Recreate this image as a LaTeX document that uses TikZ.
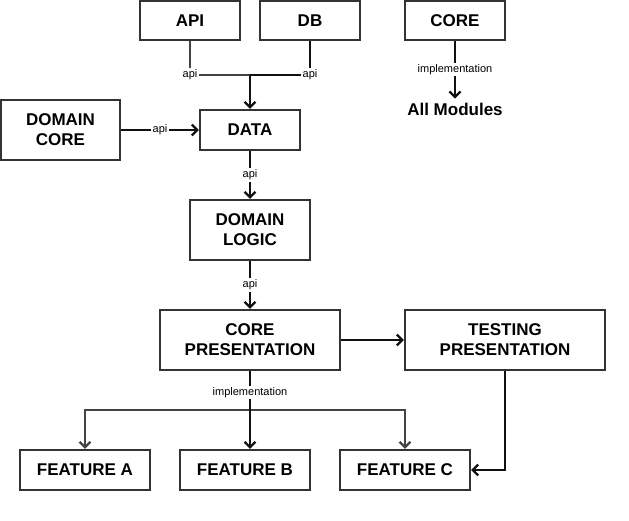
\documentclass[tikz,border=0pt]{standalone}
\usepackage{fontspec}
\setmainfont{Liberation Sans}
\usetikzlibrary{arrows.meta}
\definecolor{boxline}{HTML}{333333}
\definecolor{greyline}{HTML}{444444}
\definecolor{darkline}{HTML}{111111}
\begin{document}
\begin{tikzpicture}[x=1pt,y=-1pt,
  box/.style={draw=boxline,line width=2.2pt,fill=white,inner sep=0pt,align=center,
    font=\fontsize{17}{20}\selectfont\bfseries},
  lbl/.style={fill=white,text=black,inner sep=1.5pt,font=\fontsize{11}{13}\selectfont},
  conn/.style={line width=2.3pt,darkline},
  gconn/.style={line width=2.3pt,greyline},
  arr/.style={-{Straight Barb[length=5.5pt,width=11pt]}}
]
\useasboundingbox (0,0) rectangle (629,520);
% boxes
\node[box,minimum width=100pt,minimum height=39pt] (api) at (190,20.5) {API};
\node[box,minimum width=100pt,minimum height=39pt] (db) at (310,20.5) {DB};
\node[box,minimum width=100pt,minimum height=39pt] (core) at (455,20.5) {CORE};
\node[box,minimum width=119pt,minimum height=60pt] (dcore) at (60.5,130) {DOMAIN\\CORE};
\node[box,minimum width=100pt,minimum height=40pt] (data) at (250,130) {DATA};
\node[box,minimum width=120pt,minimum height=60pt] (dlogic) at (250,230) {DOMAIN\\LOGIC};
\node[box,minimum width=180pt,minimum height=60pt] (cpres) at (250,340) {CORE\\PRESENTATION};
\node[box,minimum width=200pt,minimum height=60pt] (tpres) at (505,340) {TESTING\\PRESENTATION};
\node[box,minimum width=130pt,minimum height=40pt] (fa) at (85,470) {FEATURE A};
\node[box,minimum width=130pt,minimum height=40pt] (fb) at (245,470) {FEATURE B};
\node[box,minimum width=130pt,minimum height=40pt] (fc) at (405,470) {FEATURE C};
\node[font=\fontsize{17}{20}\selectfont\bfseries,inner sep=4pt] (allmod) at (455,109) {All Modules};
% junctions
\coordinate (j1) at (250,75);
\coordinate (j2) at (250,410);
% API / DB -> DATA
\draw[gconn] (api.south) |- node[lbl] (l1) {api} (j1);
\draw[conn] (db.south) |- node[lbl] (l2) {api} (j1);
\draw[conn,arr] (j1) -- (data.north);
% DOMAIN CORE -> DATA
\draw[conn,arr] (dcore.east) -- node[lbl] (l3) {api} (data.west);
% DATA -> DOMAIN LOGIC
\draw[conn,arr] (data.south) -- node[lbl] (l4) {api} (dlogic.north);
% DOMAIN LOGIC -> CORE PRESENTATION
\draw[conn,arr] (dlogic.south) -- node[lbl] (l5) {api} (cpres.north);
% CORE PRESENTATION -> TESTING PRESENTATION
\draw[conn,arr] (cpres.east) -- (tpres.west);
% CORE PRESENTATION -> features
\draw[gconn,arr] (j2) -| (fa.north);
\draw[gconn,arr] (j2) -| (fc.north);
\draw[conn,arr] (cpres.south) -- node[lbl,pos=0.55] (l6) {implementation} (j2) -- (j2 |- fb.north);
% TESTING PRESENTATION -> FEATURE C
\draw[conn,arr] (tpres.south) |- (fc.east);
% CORE -> All Modules
\draw[conn,arr] (core.south) -- node[lbl] (l7) {implementation} (allmod.north);
\end{tikzpicture}
\end{document}
